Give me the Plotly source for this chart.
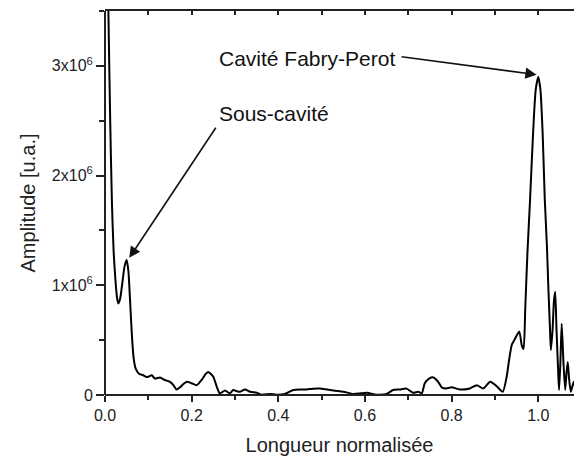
import numpy as np
import plotly.graph_objects as go

# Normalised length (x) and amplitude in units of 1e6 (y)
length_norm = [
    0.000, 0.004, 0.008, 0.012, 0.016, 0.020, 0.024, 0.028, 0.031, 0.035,
    0.040, 0.045, 0.050, 0.054, 0.058, 0.062, 0.066, 0.070, 0.075, 0.080,
    0.088, 0.095, 0.100, 0.108, 0.115, 0.127, 0.138, 0.150, 0.158, 0.165,
    0.173, 0.181, 0.189, 0.200, 0.212, 0.223, 0.232, 0.238, 0.245, 0.250,
    0.258, 0.265, 0.277, 0.288, 0.296, 0.304, 0.312, 0.323, 0.335, 0.350,
    0.362, 0.381, 0.396, 0.415, 0.435, 0.450, 0.465, 0.480, 0.496, 0.510,
    0.527, 0.550, 0.573, 0.590, 0.604, 0.627, 0.650, 0.665, 0.680, 0.696,
    0.711, 0.723, 0.731, 0.738, 0.748, 0.758, 0.769, 0.777, 0.788, 0.800,
    0.819, 0.842, 0.858, 0.873, 0.889, 0.904, 0.918, 0.927, 0.933, 0.939,
    0.946, 0.956, 0.962, 0.966, 0.970, 0.975, 0.981, 0.988, 0.994, 1.000,
    1.005, 1.010, 1.015, 1.020, 1.023, 1.027, 1.029, 1.033, 1.036, 1.039,
    1.042, 1.046, 1.048, 1.051, 1.054, 1.058, 1.062, 1.065, 1.068, 1.071,
    1.075, 1.078, 1.082, 1.086,
]
amplitude_e6 = [
    6.0, 4.6, 3.45, 2.5, 1.75, 1.3, 1.05, 0.88, 0.835, 0.88,
    1.02, 1.17, 1.23, 1.13, 0.85, 0.55, 0.34, 0.25, 0.21, 0.19,
    0.18, 0.165, 0.167, 0.18, 0.15, 0.16, 0.137, 0.12, 0.09, 0.05,
    0.07, 0.10, 0.12, 0.107, 0.09, 0.137, 0.19, 0.21, 0.19, 0.167,
    0.075, 0.015, 0.04, 0.015, 0.045, 0.035, 0.03, 0.05, 0.03, 0.02,
    0.003, 0.01, 0.003, 0.01, 0.045, 0.05, 0.05, 0.058, 0.06, 0.052,
    0.04, 0.03, 0.01, 0.015, 0.02, 0.003, 0.01, 0.045, 0.05, 0.058,
    0.02, 0.03, 0.015, 0.107, 0.15, 0.16, 0.12, 0.07, 0.06, 0.07,
    0.05, 0.06, 0.09, 0.06, 0.12, 0.08, 0.03, 0.167, 0.33, 0.46,
    0.51, 0.58, 0.45, 0.42, 0.8, 1.3, 1.78, 2.39, 2.78, 2.9,
    2.78, 2.39, 1.78, 1.35, 1.0, 0.6, 0.41, 0.6, 0.85, 0.94,
    0.6, 0.2, 0.045, 0.3, 0.65, 0.3, 0.045, 0.2, 0.30, 0.15,
    0.03, 0.07, 0.12, 0.05,
]

y_tick_vals = [0, 1e6, 2e6, 3e6]
y_tick_text = ["0", "1x10<sup>6</sup>", "2x10<sup>6</sup>", "3x10<sup>6</sup>"]
x_tick_vals = [0.0, 0.2, 0.4, 0.6, 0.8, 1.0]
x_tick_text = ["0.0", "0.2", "0.4", "0.6", "0.8", "1.0"]

amplitude = np.array(amplitude_e6) * 1e6

FONT = "Liberation Sans, Arial, sans-serif"
AXC = "#222222"
X_RANGE = [0, 1.0824]
Y_RANGE = [0, 3.5e6]

fig = go.Figure()
fig.add_trace(go.Scatter(
    x=length_norm, y=amplitude, mode="lines",
    line=dict(color="black", width=2, shape="spline", smoothing=0.6),
    showlegend=False, hoverinfo="skip",
))
# empty trace so that the top (mirror) axis gets drawn
fig.add_trace(go.Scatter(x=[], y=[], xaxis="x2", yaxis="y", mode="lines",
                         showlegend=False, hoverinfo="skip"))

fig.update_layout(
    width=574, height=456,
    margin=dict(l=105, r=0, t=11, b=61),
    paper_bgcolor="white", plot_bgcolor="white",
    font=dict(family=FONT, color="#222222"),
    xaxis=dict(
        range=X_RANGE, showgrid=False, zeroline=False,
        showline=False,
        tickmode="array", tickvals=x_tick_vals, ticktext=x_tick_text,
        ticks="outside", ticklen=6, tickwidth=1.5, tickcolor=AXC,
        minor=dict(ticks="outside", dtick=0.1, tick0=0, ticklen=4, tickwidth=1.5, tickcolor=AXC),
        tickfont=dict(size=16, family=FONT, color="#222222"),
        title=dict(text="Longueur normalisée", font=dict(size=20, family=FONT, color="#222222"), standoff=15),
    ),
    xaxis2=dict(
        range=X_RANGE, overlaying="x", side="top", anchor="y",
        showgrid=False, zeroline=False, showticklabels=False,
        showline=True, linecolor=AXC, linewidth=2,
        tickmode="linear", tick0=0, dtick=0.1,
        ticks="inside", ticklen=4, tickwidth=1.5, tickcolor=AXC,
    ),
    yaxis=dict(
        range=Y_RANGE, showgrid=False, zeroline=False,
        showline=False,
        tickmode="array", tickvals=y_tick_vals, ticktext=y_tick_text,
        ticks="outside", ticklen=8, tickwidth=1.5, tickcolor=AXC,
        minor=dict(ticks="outside", dtick=0.5e6, tick0=0, ticklen=5, tickwidth=1.5, tickcolor=AXC),
        tickfont=dict(size=16, family=FONT, color="#222222"),
        title=dict(text="Amplitude [u.a.]", font=dict(size=20, family=FONT, color="#222222"), standoff=10),
    ),
    shapes=[
        dict(type="line", xref="paper", yref="paper", x0=0, x1=0, y0=0, y1=1,
             line=dict(color=AXC, width=2), layer="above"),
        dict(type="line", xref="paper", yref="paper", x0=0, x1=1, y0=0, y1=0,
             line=dict(color=AXC, width=2), layer="above"),
    ],
)

# Text labels
fig.add_annotation(x=0.258, y=3.07e6, xref="x", yref="y", text="Cavité Fabry-Perot",
                   showarrow=False, xanchor="left", yanchor="middle",
                   font=dict(size=21, family=FONT, color="#111111"))
fig.add_annotation(x=0.258, y=2.57e6, xref="x", yref="y", text="Sous-cavité",
                   showarrow=False, xanchor="left", yanchor="middle",
                   font=dict(size=21, family=FONT, color="#111111"))
# Arrows
fig.add_annotation(x=0.996, y=2.92e6, ax=0.681, ay=3.085e6, xref="x", yref="y",
                   axref="x", ayref="y", text="", showarrow=True,
                   arrowhead=2, arrowsize=1.4, arrowwidth=1.6, arrowcolor="#111111")
fig.add_annotation(x=0.056, y=1.25e6, ax=0.258, ay=2.45e6, xref="x", yref="y",
                   axref="x", ayref="y", text="", showarrow=True,
                   arrowhead=2, arrowsize=1.4, arrowwidth=1.6, arrowcolor="#111111")

fig.write_html("out.html", config={"displayModeBar": False},
               post_script="document.body.style.margin='0';document.body.style.overflow='hidden';")
